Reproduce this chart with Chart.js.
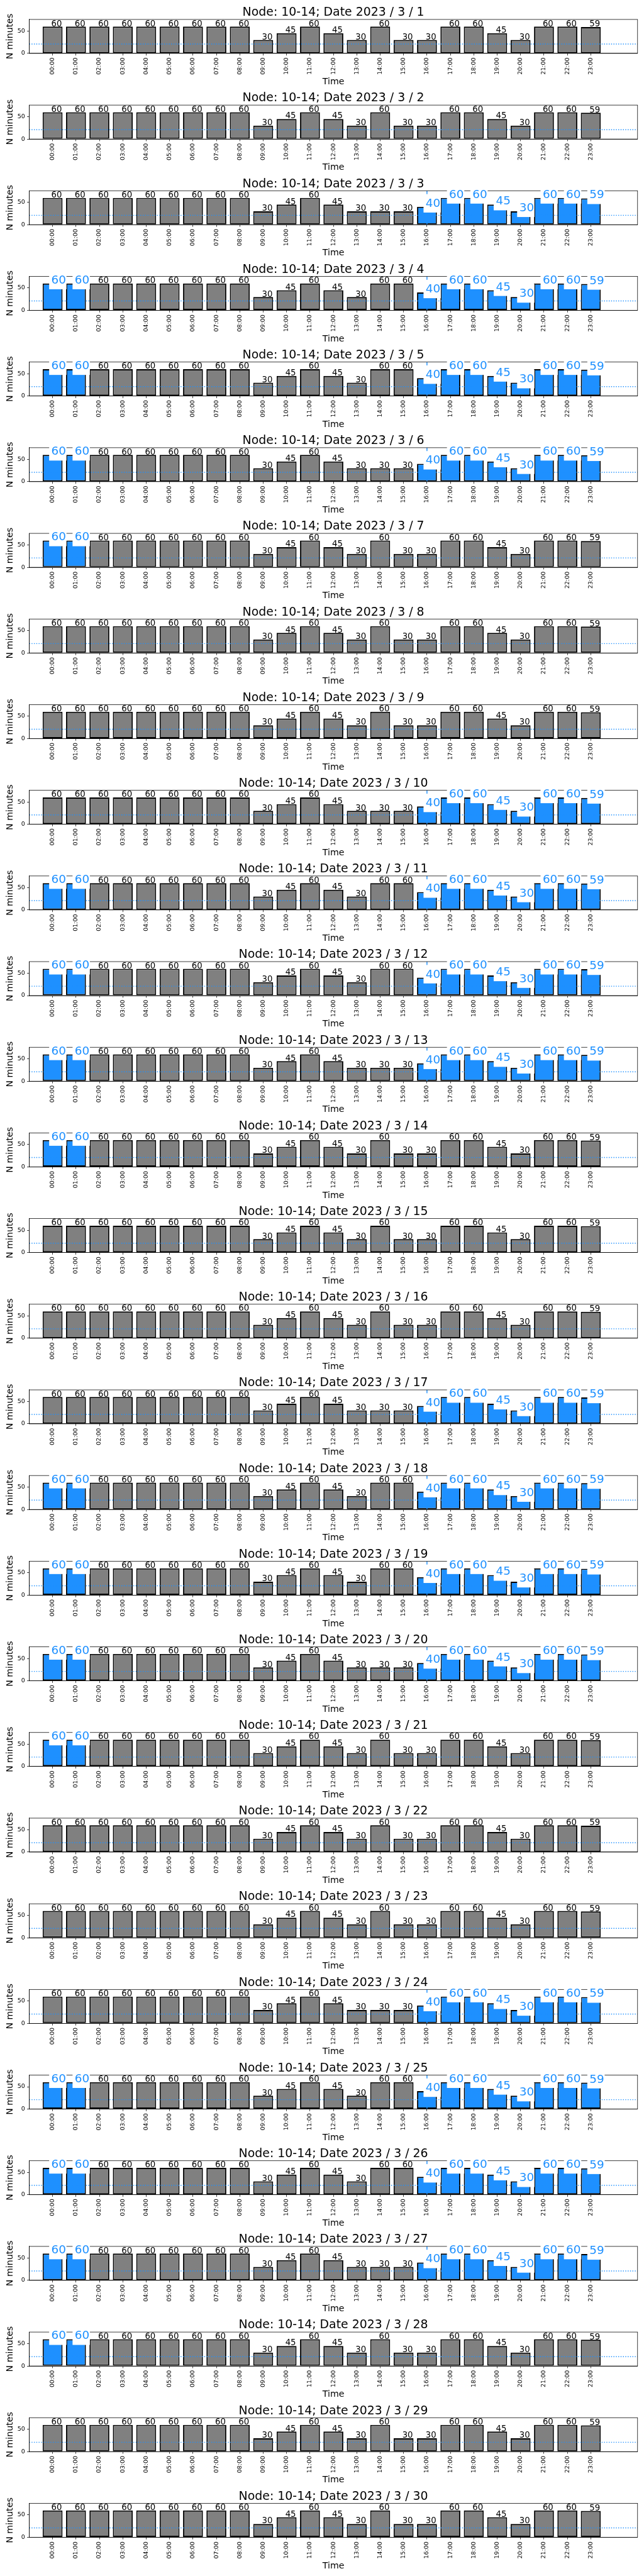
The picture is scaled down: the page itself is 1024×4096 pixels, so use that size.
<!DOCTYPE html>
<html>
<head>
<meta charset="utf-8">
<script src="https://cdn.jsdelivr.net/npm/chart.js@4.4.1/dist/chart.umd.min.js"></script>
<style>
  html, body { margin: 0; padding: 0; background: #fff; }
  #page { position: relative; width: 1024px; height: 4096px; overflow: hidden; }
  #page canvas { position: absolute; left: 0; }
</style>
</head>
<body>
<div id="page"></div>
<script>
// values
const hourLabels = ["00:00", "01:00", "02:00", "03:00", "04:00", "05:00", "06:00", "07:00",
  "08:00", "09:00", "10:00", "11:00", "12:00", "13:00", "14:00", "15:00",
  "16:00", "17:00", "18:00", "19:00", "20:00", "21:00", "22:00", "23:00"];
const hourValues = [0, 1, 2, 3, 4, 5, 6, 7, 8, 9, 10, 11, 12, 13, 14, 15, 16, 17, 18, 19, 20, 21, 22, 23];
const dayNumbers = [1, 2, 3, 4, 5, 6, 7, 8, 9, 10, 11, 12, 13, 14, 15,
  16, 17, 18, 19, 20, 21, 22, 23, 24, 25, 26, 27, 28, 29, 30];

// three kinds of day seen in the picture
const minutesA = [60, 60, 60, 60, 60, 60, 60, 60, 60, 30, 45, 60, 45, 30, 60, 30, 30, 60, 60, 45, 30, 60, 60, 59];
const minutesB = [60, 60, 60, 60, 60, 60, 60, 60, 60, 30, 45, 60, 45, 30, 30, 30, 40, 60, 60, 45, 30, 60, 60, 59];
const minutesC = [60, 60, 60, 60, 60, 60, 60, 60, 60, 30, 45, 60, 45, 30, 60, 60, 40, 60, 60, 45, 30, 60, 60, 59];
const dayPattern = ["A", "A", "B", "C", "C", "B", "A", "A", "A", "B", "C", "C", "B", "A", "A",
  "A", "B", "C", "C", "B", "A", "A", "A", "B", "C", "C", "B", "A", "A", "A"];

// highlighted (blue) hours
const morningBlueDays = [4, 5, 6, 7, 11, 12, 13, 14, 18, 19, 20, 21, 25, 26, 27, 28];
const eveningBlueDays = [3, 4, 5, 6, 10, 11, 12, 13, 17, 18, 19, 20, 24, 25, 26, 27];
const morningHours = [0, 1];
const eveningHours = [16, 17, 18, 19, 20, 21, 22, 23];

const yTickValues = [0, 50];
const thresholdMinutes = 21;
const eveningStartHour = 16;
const yMax = 76;
const xMin = -1;
const xMax = 25;

const S = 1024 / 1500; // reference -> window
const PERIOD = 199.5;  // subplot pitch in reference px
const CANVAS_H = 137;
const FONT = '"DejaVu Sans", sans-serif';
const GRAY = "#808080";
const BLUE = "#1E90FF";

const patterns = { A: minutesA, B: minutesB, C: minutesC };
const page = document.getElementById("page");

function makeDecor(day, values, blue, evening) {
  return {
    id: "decor" + day,
    afterDatasetsDraw(chart) {
      const ctx = chart.ctx;
      const area = chart.chartArea;
      const xs = chart.scales.x;
      const ys = chart.scales.y;
      const midX = (area.left + area.right) / 2;

      // threshold line and start-of-evening line, clipped to the axes
      ctx.save();
      ctx.beginPath();
      ctx.rect(area.left, area.top, area.right - area.left, area.bottom - area.top);
      ctx.clip();
      ctx.strokeStyle = BLUE;
      ctx.lineWidth = 2.08 * S;
      ctx.setLineDash([2.08 * S, 3.43 * S]);
      const yt = ys.getPixelForValue(thresholdMinutes);
      ctx.beginPath();
      ctx.moveTo(area.left, yt);
      ctx.lineTo(area.right, yt);
      ctx.stroke();
      ctx.setLineDash([]);
      if (evening) {
        const xv = xs.getPixelForValue(eveningStartHour);
        ctx.beginPath();
        ctx.moveTo(xv, area.top);
        ctx.lineTo(xv, area.bottom);
        ctx.stroke();
      }
      ctx.restore();

      // spines
      ctx.save();
      ctx.strokeStyle = "#000";
      ctx.lineWidth = 1.11 * S;
      ctx.strokeRect(area.left, area.top, area.right - area.left, area.bottom - area.top);
      ctx.restore();

      ctx.save();
      ctx.fillStyle = "#000";

      // x tick labels, rotated
      ctx.font = (13.9 * S) + "px " + FONT;
      ctx.textAlign = "right";
      ctx.textBaseline = "middle";
      hourValues.forEach((h, i) => {
        const px = xs.getPixelForValue(h);
        ctx.save();
        ctx.translate(px, area.bottom + 9.7 * S);
        ctx.rotate(-Math.PI / 2);
        ctx.fillText(hourLabels[i], 0, 0);
        ctx.restore();
      });

      // y tick labels
      yTickValues.forEach((v) => {
        ctx.fillText(String(v), area.left - 9.7 * S, ys.getPixelForValue(v));
      });

      // axis titles and title
      ctx.textBaseline = "alphabetic";
      ctx.textAlign = "center";
      ctx.font = (20.8 * S) + "px " + FONT;
      ctx.fillText("Time", midX, area.bottom + 72 * S);
      ctx.save();
      ctx.translate(29.7 * S, (area.top + area.bottom) / 2);
      ctx.rotate(-Math.PI / 2);
      ctx.fillText("N minutes", 0, 0);
      ctx.restore();
      ctx.font = (27.7 * S) + "px " + FONT;
      ctx.fillText("Node: 10-14; Date 2023 / 3 / " + day, midX, area.top - 8.3 * S);

      // bar value labels
      ctx.textAlign = "left";
      values.forEach((v, i) => {
        const px = xs.getPixelForValue(hourValues[i]) - 3 * S;
        const py = ys.getPixelForValue(v);
        if (blue[i]) {
          ctx.font = (27 * S) + "px " + FONT;
          const w = ctx.measureText(String(v)).width;
          ctx.fillStyle = "#fff";
          ctx.fillRect(px - 5 * S, py - 29.7 * S, w + 6 * S, 43 * S);
          ctx.fillStyle = BLUE;
          ctx.fillText(String(v), px, py);
        } else {
          ctx.font = (19.5 * S) + "px " + FONT;
          ctx.fillStyle = "#000";
          ctx.fillText(String(v), px, py - 1 * S);
        }
      });
      ctx.restore();
    }
  };
}

dayNumbers.forEach((day, k) => {
  const values = patterns[dayPattern[k]];
  const morning = morningBlueDays.includes(day);
  const evening = eveningBlueDays.includes(day);
  const blue = hourValues.map((h) =>
    (morning && morningHours.includes(h)) || (evening && eveningHours.includes(h)));

  const topExact = k * PERIOD * S;
  const top = Math.round(topExact);
  const frac = topExact - top;

  const canvas = document.createElement("canvas");
  canvas.width = 1024;
  canvas.height = CANVAS_H;
  canvas.style.top = top + "px";
  page.appendChild(canvas);

  const areaTop = 45.3 * S + frac;
  const areaBottom = 124.4 * S + frac;

  new Chart(canvas.getContext("2d"), {
    type: "bar",
    data: {
      datasets: [{
        data: values.map((v, i) => ({ x: hourValues[i], y: v })),
        backgroundColor: blue.map((b) => (b ? BLUE : GRAY)),
        borderColor: "#000",
        borderWidth: 2.8 * S,
        borderSkipped: false,
        barPercentage: 0.85,
        categoryPercentage: 1
      }]
    },
    options: {
      responsive: false,
      animation: false,
      devicePixelRatio: 1,
      events: [],
      layout: {
        autoPadding: false,
        padding: { top: areaTop, right: 1024 - 1485 * S, bottom: 0, left: 0 }
      },
      plugins: {
        legend: { display: false },
        title: { display: false },
        tooltip: { enabled: false }
      },
      scales: {
        x: {
          type: "linear",
          min: xMin,
          max: xMax,
          offset: false,
          afterBuildTicks: (s) => { s.ticks = hourValues.map((v) => ({ value: v })); },
          afterFit: (s) => { s.height = CANVAS_H - areaBottom; },
          ticks: { display: false },
          grid: {
            offset: false,
            drawOnChartArea: false,
            drawTicks: true,
            tickLength: 4.9 * S,
            tickWidth: 1.11 * S,
            tickColor: "#000"
          },
          border: { display: true, color: "#000", width: 1.11 * S }
        },
        y: {
          type: "linear",
          min: 0,
          max: yMax,
          afterBuildTicks: (s) => { s.ticks = yTickValues.map((v) => ({ value: v })); },
          afterFit: (s) => { s.width = 68 * S; },
          ticks: { display: false },
          grid: {
            drawOnChartArea: false,
            drawTicks: true,
            tickLength: 4.9 * S,
            tickWidth: 1.11 * S,
            tickColor: "#000"
          },
          border: { display: true, color: "#000", width: 1.11 * S }
        }
      }
    },
    plugins: [makeDecor(day, values, blue, evening)]
  });
});
</script>
</body>
</html>
